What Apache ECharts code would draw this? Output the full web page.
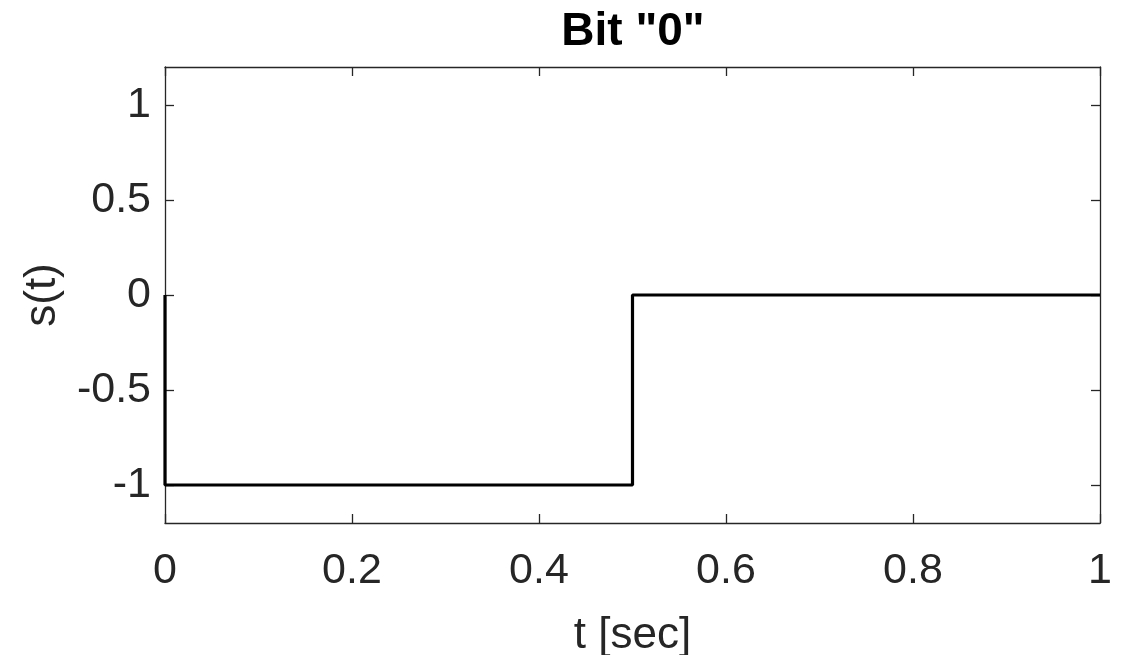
<!DOCTYPE html>
<html><head><meta charset="utf-8">
<script src="https://cdn.jsdelivr.net/npm/echarts@6/dist/echarts.min.js"></script>
<style>html,body{margin:0;padding:0;background:#fff}#c{width:1123px;height:655px}</style>
</head><body><div id="c"></div>
<script>
const tValues = [0, 0, 0.5, 0.5, 1];
const sValues = [0, -1, -1, 0, 0];
const xTicks = [0, 0.2, 0.4, 0.6, 0.8, 1];
const yTicks = [-1, -0.5, 0, 0.5, 1];
const titleText = 'Bit "0"';
const xName = 't [sec]';
const yName = 's(t)';

const axisColor = '#262626';
const font = 'Liberation Sans, Arial, Helvetica, sans-serif';
const data = tValues.map((t, i) => [t, sValues[i]]);

function xAx(pos, showLabel) {
  return {
    type: 'value', position: pos, min: 0, max: 1,
    axisLine: {show: true, onZero: false, lineStyle: {color: axisColor, width: 1.3}},
    axisTick: {show: true, inside: true, length: 9, customValues: xTicks, lineStyle: {color: axisColor, width: 1.3}},
    axisLabel: {show: showLabel, customValues: xTicks, color: axisColor, fontSize: 43, fontFamily: font, margin: 27,
      formatter: v => String(+v.toFixed(2))},
    splitLine: {show: false},
    name: showLabel ? xName : '', nameLocation: 'middle', nameGap: 91,
    nameTextStyle: {color: axisColor, fontSize: 44, fontFamily: font}
  };
}
function yAx(pos, showLabel) {
  return {
    type: 'value', position: pos, min: -1.2, max: 1.2,
    axisLine: {show: true, onZero: false, lineStyle: {color: axisColor, width: 1.3}},
    axisTick: {show: true, inside: true, length: 9, customValues: yTicks, lineStyle: {color: axisColor, width: 1.3}},
    axisLabel: {show: showLabel, customValues: yTicks, color: axisColor, fontSize: 43, fontFamily: font, margin: 14,
      formatter: v => String(+v.toFixed(2))},
    splitLine: {show: false},
    name: showLabel ? yName : '', nameLocation: 'middle', nameGap: 100, nameRotate: 90,
    nameTextStyle: {color: axisColor, fontSize: 44, fontFamily: font}
  };
}

const chart = echarts.init(document.getElementById('c'), null, {renderer: 'canvas'});
chart.setOption({
  animation: false,
  title: {text: titleText, left: 628, top: 4, textAlign: 'center',
    textStyle: {fontSize: 46, fontWeight: 'bold', color: '#000', fontFamily: font}},
  grid: {left: 165, right: 23, top: 67, bottom: 132, containLabel: false, outerBoundsMode: 'none'},
  xAxis: [xAx('bottom', true), xAx('top', false)],
  yAxis: [yAx('left', true), yAx('right', false)],
  series: [{
    type: 'line', data: data, xAxisIndex: 0, yAxisIndex: 0,
    showSymbol: false, symbol: 'none', clip: false,
    lineStyle: {color: '#000', width: 3.2}
  }]
});
</script></body></html>
